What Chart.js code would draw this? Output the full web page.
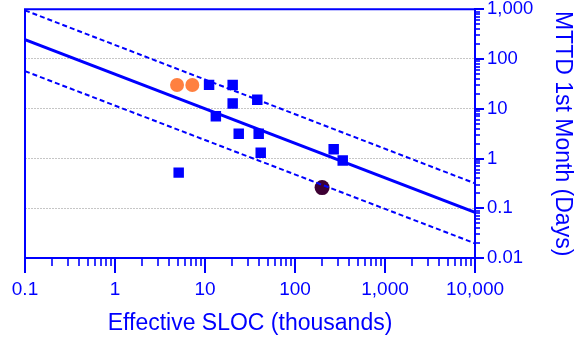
<!DOCTYPE html>
<html>
<head>
<meta charset="utf-8">
<script src="https://cdn.jsdelivr.net/npm/chart.js@4/dist/chart.umd.min.js"></script>
<style>
  html, body { margin: 0; padding: 0; background: #ffffff; }
  #wrap { width: 574px; height: 338px; }
</style>
</head>
<body>
<div id="wrap"><canvas id="chart" width="574" height="338"></canvas></div>
<script>
// Effective SLOC (thousands) vs. MTTD in the first month (days)
const projectSloc = [11.1, 20.3, 38.1, 20.3, 13.2, 23.7, 39.5, 41.6, 5.1, 269, 339];
const projectMttd = [30.2, 30.0, 15.1, 12.7, 7.07, 3.13, 3.13, 1.30, 0.52, 1.54, 0.91];

const highlightSloc = [4.89, 7.23];
const highlightMttd = [30, 30];

const outlierSloc = [200];
const outlierMttd = [0.26];

// Fitted trend and its upper / lower bounds
const trendSloc = [0.1, 10000];
const trendMttd = [246, 0.083];
const upperMttd = [950, 0.316];
const lowerMttd = [57, 0.0197];

const xTickLabels = ['0.1', '1', '10', '100', '1,000', '10,000'];
const yTickLabels = ['0.01', '0.1', '1', '10', '100', '1,000'];

const BLUE = '#0000ff';
const FONT = '"Liberation Sans", Arial, Helvetica, sans-serif';
const CLEAR = 'rgba(0,0,0,0)';

const pts = (xs, ys) => xs.map((v, i) => ({ x: v, y: ys[i] }));

// Every 1..9 x 10^k value between lo and hi, flagged major at powers of ten
function decadeValues(lo, hi) {
  const out = [];
  for (let e = Math.round(Math.log10(lo)); e <= Math.round(Math.log10(hi)); e++) {
    for (let m = 1; m <= 9; m++) {
      const v = +(m * Math.pow(10, e)).toPrecision(6);
      if (v >= lo * 0.9999 && v <= hi * 1.0001) out.push({ value: v, major: m === 1 });
    }
  }
  return out;
}
const isMajor = v => Math.abs(Math.log10(v) - Math.round(Math.log10(v))) < 1e-6;

function labelFor(list, lo) {
  return v => {
    if (!isMajor(v)) return '';
    const idx = Math.round(Math.log10(v) - Math.log10(lo));
    return list[idx] ?? '';
  };
}

// Frame on the top/left and outward major/minor tick marks
const axisDecor = {
  id: 'axisDecor',
  afterDraw(chart) {
    const { ctx, chartArea: a, scales } = chart;
    const x = scales.x, y = scales.y;
    ctx.save();
    ctx.strokeStyle = BLUE;
    ctx.lineWidth = 2;
    ctx.beginPath();
    ctx.moveTo(a.left, a.bottom);
    ctx.lineTo(a.left, a.top);
    ctx.lineTo(a.right, a.top);
    ctx.stroke();

    decadeValues(x.min, x.max).forEach(t => {
      const px = Math.round(x.getPixelForValue(t.value));
      ctx.lineWidth = t.major ? 2 : 1.6;
      ctx.beginPath();
      ctx.moveTo(px, a.bottom);
      ctx.lineTo(px, a.bottom + (t.major ? 15 : 8));
      ctx.stroke();
    });
    decadeValues(y.min, y.max).forEach(t => {
      const py = Math.round(y.getPixelForValue(t.value));
      ctx.lineWidth = t.major ? 2 : 1.6;
      ctx.beginPath();
      ctx.moveTo(a.right, py);
      ctx.lineTo(a.right + (t.major ? 9 : 5), py);
      ctx.stroke();
    });
    ctx.restore();
  }
};

new Chart(document.getElementById('chart'), {
  type: 'scatter',
  data: {
    datasets: [
      {
        label: 'Projects',
        data: pts(projectSloc, projectMttd),
        pointStyle: 'rect',
        pointRadius: 7.4,
        pointBackgroundColor: BLUE,
        pointBorderWidth: 0,
        showLine: false,
        order: 1
      },
      {
        label: 'Highlighted',
        data: pts(highlightSloc, highlightMttd),
        pointStyle: 'circle',
        pointRadius: 7,
        pointBackgroundColor: '#ff8040',
        pointBorderWidth: 0,
        showLine: false,
        order: 1
      },
      {
        label: 'Trend',
        data: pts(trendSloc, trendMttd),
        showLine: true,
        borderColor: BLUE,
        borderWidth: 3,
        pointRadius: 0,
        order: 2
      },
      {
        label: 'Upper bound',
        data: pts(trendSloc, upperMttd),
        showLine: true,
        borderColor: BLUE,
        borderWidth: 2,
        borderDash: [5, 3],
        pointRadius: 0,
        order: 2
      },
      {
        label: 'Lower bound',
        data: pts(trendSloc, lowerMttd),
        showLine: true,
        borderColor: BLUE,
        borderWidth: 2,
        borderDash: [5, 3],
        pointRadius: 0,
        order: 2
      },
      {
        label: 'Outlier',
        data: pts(outlierSloc, outlierMttd),
        pointStyle: 'circle',
        pointRadius: 7.5,
        pointBackgroundColor: '#3d0033',
        pointBorderWidth: 0,
        showLine: false,
        order: 3
      }
    ]
  },
  options: {
    responsive: false,
    animation: false,
    events: [],
    layout: { padding: { left: 25, top: 9, right: 0, bottom: 0 } },
    plugins: {
      legend: { display: false },
      tooltip: { enabled: false }
    },
    scales: {
      x: {
        type: 'logarithmic',
        position: 'bottom',
        min: 0.1,
        max: 10000,
        afterBuildTicks: s => { s.ticks = decadeValues(0.1, 10000).map(t => ({ value: t.value })); },
        afterFit: s => { s.height = 80; },
        ticks: {
          autoSkip: false,
          maxRotation: 0,
          padding: 2,
          color: BLUE,
          font: { family: FONT, size: 19, lineHeight: 1.2 },
          callback: labelFor(xTickLabels, 0.1)
        },
        grid: { display: true, drawOnChartArea: false, drawTicks: true, tickLength: 18, tickColor: CLEAR, tickWidth: 0 },
        border: { display: true, color: BLUE, width: 2 },
        title: {
          display: true,
          text: 'Effective SLOC (thousands)',
          color: BLUE,
          font: { family: FONT, size: 23, lineHeight: 1 },
          padding: { top: 0, bottom: 3 }
        }
      },
      y: {
        type: 'logarithmic',
        position: 'right',
        min: 0.01,
        max: 1000,
        afterBuildTicks: s => { s.ticks = decadeValues(0.01, 1000).map(t => ({ value: t.value })); },
        afterFit: s => { s.width = 99; },
        ticks: {
          autoSkip: false,
          padding: 0,
          color: BLUE,
          font: { family: FONT, size: 18.5, lineHeight: 1 },
          callback: labelFor(yTickLabels, 0.01)
        },
        grid: {
          display: true,
          drawOnChartArea: true,
          drawTicks: true,
          tickLength: 12,
          tickColor: CLEAR,
          tickWidth: 0,
          color: c => {
            const v = c.tick && c.tick.value;
            return v && isMajor(v) && v > 0.011 && v < 999 ? '#c6c6c6' : CLEAR;
          },
          lineWidth: c => {
            const v = c.tick && c.tick.value;
            return v && isMajor(v) && v > 0.011 && v < 999 ? 1 : 0;
          }
        },
        border: { display: true, color: BLUE, width: 2, dash: [2, 1] },
        title: {
          display: true,
          text: 'MTTD 1st Month (Days)',
          color: BLUE,
          font: { family: FONT, size: 23, lineHeight: 1 },
          padding: { top: 0, bottom: 0 }
        }
      }
    }
  },
  plugins: [axisDecor]
});
</script>
</body>
</html>
